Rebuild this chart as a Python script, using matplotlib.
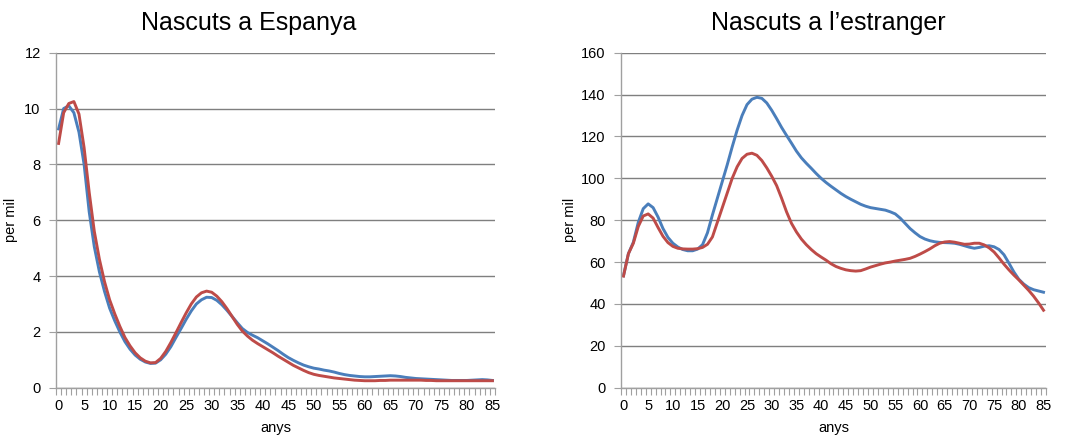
import matplotlib
matplotlib.use('Agg')
import matplotlib.pyplot as plt
from matplotlib.ticker import FixedLocator

plt.rcParams['font.family'] = ['Liberation Sans', 'DejaVu Sans']

# ── Data (per mil, by age) ──────────────────────────
ages = list(range(86))
age_ticks = list(range(0, 86, 5))

esp_blue = [9.27, 10.0, 10.1, 9.85, 9.15, 8.0, 6.3, 5.05, 4.15, 3.45,
            2.85, 2.4, 2.0, 1.65, 1.38, 1.17, 1.02, 0.92, 0.87, 0.88,
            1.0, 1.2, 1.47, 1.8, 2.12, 2.45, 2.75, 3.0, 3.15, 3.24,
            3.23, 3.13, 2.97, 2.77, 2.55, 2.33, 2.12, 1.98, 1.88, 1.79,
            1.68, 1.57, 1.45, 1.33, 1.2, 1.08, 0.98, 0.89, 0.81, 0.75,
            0.7, 0.67, 0.63, 0.6, 0.56, 0.51, 0.47, 0.44, 0.42, 0.40,
            0.39, 0.39, 0.40, 0.41, 0.42, 0.43, 0.42, 0.40, 0.37, 0.35,
            0.33, 0.32, 0.31, 0.30, 0.29, 0.28, 0.27, 0.26, 0.26, 0.26,
            0.26, 0.27, 0.28, 0.29, 0.28, 0.26]

esp_red = [8.75, 9.85, 10.18, 10.25, 9.8, 8.6, 7.0, 5.6, 4.6, 3.8,
           3.15, 2.65, 2.2, 1.8, 1.5, 1.25, 1.07, 0.95, 0.89, 0.9,
           1.05, 1.3, 1.62, 1.97, 2.33, 2.68, 3.0, 3.25, 3.4, 3.46,
           3.42, 3.28, 3.08, 2.83, 2.55, 2.27, 2.03, 1.85, 1.7, 1.58,
           1.47, 1.36, 1.25, 1.13, 1.02, 0.91, 0.8, 0.71, 0.62, 0.54,
           0.48, 0.44, 0.41, 0.38, 0.35, 0.33, 0.31, 0.29, 0.27, 0.26,
           0.25, 0.25, 0.25, 0.26, 0.26, 0.27, 0.27, 0.27, 0.27, 0.27,
           0.27, 0.27, 0.26, 0.26, 0.25, 0.25, 0.25, 0.25, 0.25, 0.25,
           0.25, 0.25, 0.25, 0.25, 0.25, 0.25]

ext_blue = [53.5, 64, 69.5, 79, 85.5, 87.8, 86, 81.5, 76, 71.8,
            69, 67.2, 66, 65.4, 65.4, 66.2, 68.3, 74, 82.5, 90.5,
            98.5, 106.5, 115, 123, 130, 135.2, 137.8, 138.7, 138.2, 136,
            132.5, 128.5, 124.3, 120.5, 116.8, 113, 109.8, 107.2, 104.8, 102.3,
            100, 98, 96.2, 94.5, 92.8, 91.3, 90, 88.8, 87.6, 86.7,
            86, 85.6, 85.2, 84.8, 84, 83, 81, 78.5, 76, 74,
            72.2, 71, 70.2, 69.7, 69.4, 69.3, 69.2, 69, 68.5, 67.8,
            67.1, 66.6, 67, 67.6, 67.8, 67.3, 66, 63.5, 59.5, 55.3,
            51.8, 49.5, 47.8, 46.8, 46.2, 45.6]

ext_red = [53.3, 64, 69, 77, 82, 83, 81, 76.5, 72.3, 69.3,
           67.5, 66.6, 66.3, 66.2, 66.2, 66.4, 67, 68.5, 72, 79,
           86, 93, 100, 105.5, 109.5, 111.5, 112, 111, 108.5, 105,
           101, 96.5, 90.5, 84, 78.5, 74.4, 71, 68.3, 66, 64,
           62.4, 60.9, 59.2, 57.9, 57, 56.3, 55.9, 55.7, 55.9, 56.7,
           57.6, 58.3, 59, 59.6, 60, 60.5, 60.9, 61.3, 61.8, 62.7,
           63.8, 65, 66.3, 67.8, 69, 69.6, 69.8, 69.5, 69, 68.5,
           68.6, 69, 69, 68.2, 66.8, 64.8, 62, 59, 56.3, 53.8,
           51.5, 49, 46.5, 43.7, 40.5, 37]

titles = ['Nascuts a Espanya', 'Nascuts a l\u2019estranger']
y_max = [12, 160]
y_step = [2, 20]

# ── Style ───────────────────────────────────────────
BLUE = '#4A7EBB'
RED = '#BE4B48'
GRID = '#7f7f7f'
AXIS = '#a0a0a0'

fig = plt.figure(figsize=(10.67, 4.37), dpi=100)
ax1 = fig.add_axes([0.0525, 0.1128, 0.4114, 0.7666])
ax2 = fig.add_axes([0.5820, 0.1128, 0.3983, 0.7666])

panels = [(ax1, esp_blue, esp_red, 0), (ax2, ext_blue, ext_red, 1)]
title_x = [0.2335, 0.776]
ylab_x = [-0.086, -0.103]

for ax, blue, red, i in panels:
    ax.plot(ages, blue, color=BLUE, lw=2.1)
    ax.plot(ages, red, color=RED, lw=2.1)
    ax.set_xlim(-0.5, 85.5)
    ax.set_ylim(0, y_max[i])
    ax.set_yticks(range(0, y_max[i] + 1, y_step[i]))
    ax.set_xticks(age_ticks)
    ax.xaxis.set_minor_locator(FixedLocator([a - 0.5 for a in ages] + [85.5]))
    ax.tick_params(axis='x', which='major', length=0, pad=8, labelsize=10.5)
    ax.tick_params(axis='x', which='minor', length=5, color=AXIS, width=0.8)
    ax.tick_params(axis='y', length=5, color=AXIS, width=0.8, pad=6, labelsize=10.5)
    ax.grid(axis='y', color=GRID, lw=1)
    ax.set_axisbelow(True)
    for s in ['top', 'right']:
        ax.spines[s].set_visible(False)
    for s in ['left', 'bottom']:
        ax.spines[s].set_color(AXIS)
        ax.spines[s].set_linewidth(1)
    ax.set_xlabel('anys', fontsize=10.5, labelpad=6)
    ax.set_ylabel('per mil', fontsize=10.5)
    ax.yaxis.set_label_coords(ylab_x[i], 0.5)
    fig.text(title_x[i], 1 - 30 / 437, titles[i], fontsize=18,
             ha='center', va='baseline')

plt.savefig('out.png', dpi=100)
